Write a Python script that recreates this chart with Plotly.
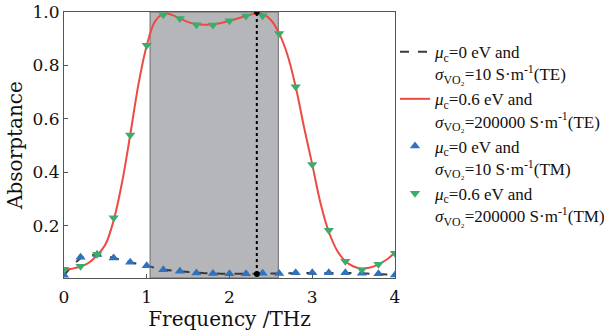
import plotly.graph_objects as go

# ---- data ----
x_fine = [0.0, 0.1, 0.2, 0.3, 0.4, 0.5, 0.6, 0.7, 0.8, 0.9, 1.0, 1.1, 1.2, 1.3, 1.4, 1.5,
          1.6, 1.7, 1.8, 1.9, 2.0, 2.1, 2.2, 2.3, 2.4, 2.5, 2.6, 2.7, 2.8, 2.9, 3.0, 3.1,
          3.2, 3.3, 3.4, 3.5, 3.6, 3.7, 3.8, 3.9, 4.0]
te_mu06 = [0.035, 0.040, 0.048, 0.062, 0.090, 0.130, 0.220, 0.360, 0.540, 0.730, 0.875,
           0.965, 0.993, 0.990, 0.976, 0.962, 0.955, 0.952, 0.954, 0.959, 0.967, 0.976,
           0.985, 0.993, 0.992, 0.970, 0.920, 0.840, 0.720, 0.570, 0.430, 0.285, 0.178,
           0.108, 0.068, 0.048, 0.040, 0.044, 0.056, 0.074, 0.100]
te_mu0 = [0.015, 0.050, 0.078, 0.090, 0.091, 0.087, 0.080, 0.072, 0.064, 0.057, 0.050,
          0.043, 0.037, 0.033, 0.030, 0.027, 0.025, 0.023, 0.022, 0.021, 0.021, 0.021,
          0.021, 0.021, 0.022, 0.022, 0.022, 0.023, 0.023, 0.024, 0.024, 0.024, 0.024,
          0.024, 0.024, 0.023, 0.022, 0.021, 0.020, 0.018, 0.015]

x_pts = [0.0, 0.2, 0.4, 0.6, 0.8, 1.0, 1.2, 1.4, 1.6, 1.8, 2.0, 2.2, 2.4, 2.6, 2.8,
         3.0, 3.2, 3.4, 3.6, 3.8, 4.0]
tm_mu0 = [0.015, 0.083, 0.093, 0.080, 0.064, 0.051, 0.036, 0.030, 0.024, 0.022, 0.021,
          0.021, 0.023, 0.022, 0.025, 0.025, 0.025, 0.025, 0.023, 0.021, 0.016]
tm_mu06 = [0.038, 0.049, 0.094, 0.230, 0.540, 0.876, 0.990, 0.976, 0.952, 0.951, 0.967,
           0.985, 0.986, 0.920, 0.720, 0.430, 0.184, 0.068, 0.036, 0.056, 0.098]

band = [1.04, 2.59]
marker_x = [2.33, 2.33]
marker_y = [0.02, 1.0]

x_ticks = [0, 1, 2, 3, 4]
y_ticks = [0.2, 0.4, 0.6, 0.8, 1.0]

labels = [
    "<i>μ</i><sub>c</sub>=0 eV and<br><i>σ</i><sub>VO₂</sub>=10 S·m<sup>-1</sup>(TE)",
    "<i>μ</i><sub>c</sub>=0.6 eV and<br><i>σ</i><sub>VO₂</sub>=200000 S·m<sup>-1</sup>(TE)",
    "<i>μ</i><sub>c</sub>=0 eV and<br><i>σ</i><sub>VO₂</sub>=10 S·m<sup>-1</sup>(TM)",
    "<i>μ</i><sub>c</sub>=0.6 eV and<br><i>σ</i><sub>VO₂</sub>=200000 S·m<sup>-1</sup>(TM)",
]

FONT = "DejaVu Serif"
LEG_FONT = "Liberation Serif"

fig = go.Figure()
fig.add_trace(go.Scatter(x=x_fine, y=te_mu0, mode="lines", name=labels[0], legendgroup="a",
                         line=dict(color="#3a3a3a", width=2, dash="dash", shape="spline")))
fig.add_trace(go.Scatter(x=x_fine, y=te_mu06, mode="lines", name=labels[1], legendgroup="b",
                         line=dict(color="#ee4a44", width=2, shape="spline")))
fig.add_trace(go.Scatter(x=x_pts, y=tm_mu0, mode="markers", name=labels[2], legendgroup="c",
                         marker=dict(symbol="triangle-up", size=9, color="#2f72c0")))
fig.add_trace(go.Scatter(x=x_pts, y=tm_mu06, mode="markers", name=labels[3], legendgroup="d",
                         marker=dict(symbol="triangle-down", size=9, color="#3dab6c")))
fig.add_trace(go.Scatter(x=marker_x, y=marker_y, mode="lines+markers", showlegend=False,
                         line=dict(color="black", width=2, dash="dot"),
                         marker=dict(color="black", size=6)))

fig.add_shape(type="rect", x0=band[0], x1=band[1], y0=0, y1=1, xref="x", yref="y domain",
              fillcolor="#b5b6b9", line=dict(color="#6a6a6a", width=1), layer="below")

fig.update_layout(
    width=604, height=331,
    margin=dict(l=64, r=209, t=12, b=53, autoexpand=False),
    paper_bgcolor="white", plot_bgcolor="white",
    font=dict(family=FONT, size=17, color="#111"),
    legend=dict(x=1.0, xanchor="left", y=0.917, yanchor="top", valign="top",
                font=dict(family=LEG_FONT, size=17, color="#111"),
                tracegroupgap=0, bgcolor="rgba(0,0,0,0)", itemwidth=30),
)
fig.update_xaxes(range=[0, 4], tickvals=x_ticks, ticks="inside", ticklen=4, tickcolor="#555",
                 showline=True, linecolor="#555", linewidth=1, mirror=True, showgrid=False,
                 zeroline=False, ticklabelstandoff=4,
                 title=dict(text="Frequency /THz", standoff=2))
fig.update_yaxes(range=[0.005, 1.0], tickvals=y_ticks, tickformat=".1f", ticks="inside",
                 ticklen=4, tickcolor="#555", showline=True, linecolor="#555", linewidth=1,
                 mirror=True, showgrid=False, zeroline=False,
                 title=dict(text="Absorptance", standoff=4))

fig.write_html("out.html")
